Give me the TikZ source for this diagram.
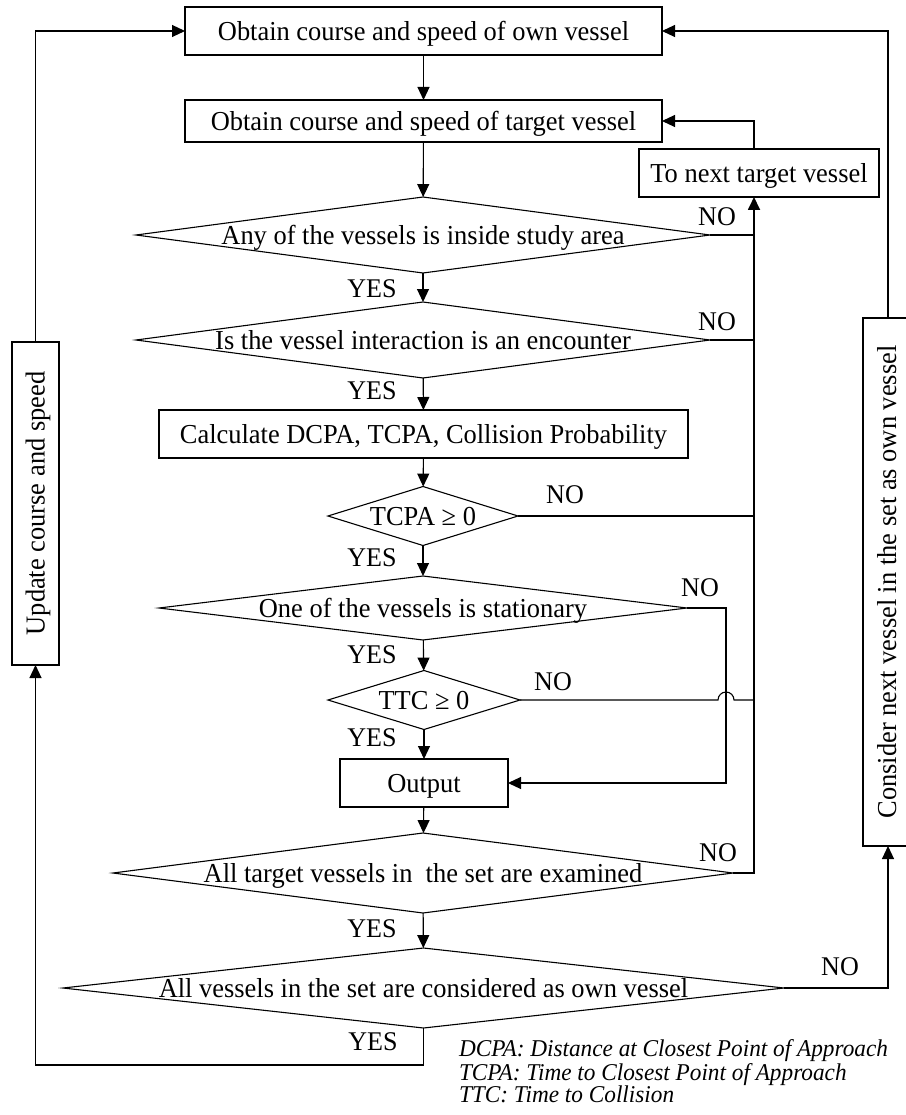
\documentclass[tikz,border=0pt]{standalone}
\usepackage{fontspec}
\setmainfont{Liberation Serif}[FakeStretch=0.965]
\usetikzlibrary{arrows.meta,shapes.geometric,calc}
\newcommand\ctext[1]{\makebox[0pt]{\raisebox{-0.33em}[0pt][0pt]{#1}}}
\begin{document}
\begin{tikzpicture}[x=1pt,y=-1pt,
  every node/.style={font=\fontsize{27.4}{31}\selectfont, inner sep=0pt, outer sep=0pt},
  line/.style={line width=1.1pt},
  arr/.style={line width=1.1pt, -{Triangle[length=13pt,width=12pt]}},
  box/.style={draw, line width=1.1pt, rectangle},
  dia/.style={draw, line width=1.1pt, diamond},
  lbl/.style={font=\fontsize{27}{31}\selectfont}
]
\useasboundingbox (0,0) rectangle (905,1115);
\coordinate (lx) at (35,0);
\coordinate (mx) at (754,0);
\coordinate (rx) at (888,0);
\coordinate (hx) at (726,0);

\node[box, minimum width=477, minimum height=48] (box1) at (423.5,31) {\ctext{Obtain course and speed of own vessel}};
\node[box, minimum width=477, minimum height=42] (box2) at (423.5,121) {\ctext{Obtain course and speed of target vessel}};
\node[box, minimum width=240, minimum height=48] (tonext) at (759,173) {\ctext{To next target vessel}};
\node[dia, minimum width=574, minimum height=76] (d1) at (423,235) {\ctext{Any of the vessels is inside study area}};
\node[dia, minimum width=574, minimum height=76] (d2) at (423,340) {\ctext{Is the vessel interaction is an encounter}};
\node[box, minimum width=529, minimum height=48] (box3) at (423.5,434) {\ctext{Calculate DCPA, TCPA, Collision Probability}};
\node[dia, minimum width=190, minimum height=59] (d3) at (423,516) {\ctext{TCPA ≥ 0}};
\node[dia, minimum width=528, minimum height=64] (d4) at (423,608) {\ctext{One of the vessels is stationary}};
\node[dia, minimum width=192, minimum height=59] (d5) at (424,700) {\ctext{TTC ≥ 0}};
\node[box, minimum width=168, minimum height=48] (output) at (424,783) {\ctext{Output}};
\node[dia, minimum width=620, minimum height=80] (d6) at (423,873) {\ctext{All target vessels in~ the set are examined}};
\node[dia, minimum width=721, minimum height=80] (d7) at (423.5,988) {\ctext{All vessels in the set are considered as own vessel}};
\node[box, rotate=90, minimum width=323, minimum height=47] (update) at (35.5,503.5) {\ctext{Update course and speed}};
\node[box, rotate=90, minimum width=528, minimum height=48] (consider) at (887,582) {\ctext{Consider next vessel in the set as own vessel}};

% main flow
\draw[arr] (box1) -- (box2);
\draw[arr] (box2) -- (d1);
\draw[arr] (d1) -- (d2);
\draw[arr] (d2) -- (box3);
\draw[arr] (box3) -- (d3);
\draw[arr] (d3) -- (d4);
\draw[arr] (d4) -- (d5);
\draw[arr] (d5) -- (output);
\draw[arr] (output) -- (d6);
\draw[arr] (d6) -- (d7);

% NO branches to next target
\draw[line] (d1.east) -- (d1.east -| mx);
\draw[line] (d2.east) -- (d2.east -| mx);
\draw[line] (d3.east) -- (d3.east -| mx);
\draw[line] (d5.east) -- ($(d5.east -| hx)+(-8,0)$) arc[start angle=180, end angle=360, radius=8] -- (d5.east -| mx);
\draw[arr, line width=1.8pt] (d6.east) -- (d6.east -| mx) -- (tonext.south -| mx);
\draw[arr] (tonext.north -| mx) |- (box2.east);

% stationary NO to output
\draw[arr] (d4.east) -- (d4.east -| hx) -- (output.east -| hx) -- (output.east);

% outer loops
\draw[arr] (d7.east) -- (d7.east -| rx) -- (consider.west -| rx);
\draw[arr] (consider.east -| rx) |- (box1.east);
\draw[arr] (d7.south) -- ($(d7.south)+(0,37)$) -| (update.west);
\draw[arr] (update.east) |- (box1.west);

% labels
\node[lbl] (no1) at (717,217) {NO};
\node[lbl] (no2) at (717,322) {NO};
\node[lbl] (no3) at (565,495) {NO};
\node[lbl] (no4) at (700,588) {NO};
\node[lbl] (no5) at (553,682) {NO};
\node[lbl] (no6) at (718,853) {NO};
\node[lbl] (no7) at (840,967) {NO};
\node[lbl] (yes1) at (372,289) {YES};
\node[lbl] (yes2) at (372,391) {YES};
\node[lbl] (yes3) at (372,558) {YES};
\node[lbl] (yes4) at (372,655) {YES};
\node[lbl] (yes5) at (372,738) {YES};
\node[lbl] (yes6) at (372,929) {YES};
\node[lbl] (yes7) at (373,1042) {YES};

\node[anchor=north west, align=left, font=\fontsize{24.1}{20.7}\selectfont\itshape] (legend) at (459,1040)
  {DCPA: Distance at Closest Point of Approach\\TCPA: Time to Closest Point of Approach\\TTC: Time to Collision};
\end{tikzpicture}
\end{document}
